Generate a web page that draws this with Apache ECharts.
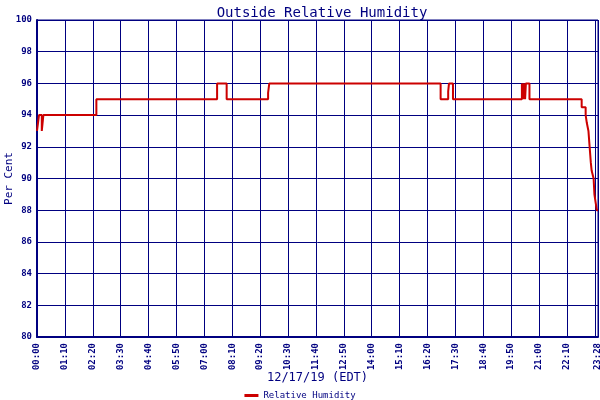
<!DOCTYPE html>
<html>
<head>
<meta charset="utf-8">
<script src="https://cdn.jsdelivr.net/npm/echarts@6/dist/echarts.min.js"></script>
<style>html,body{margin:0;padding:0;background:#fff}#c{width:600px;height:400px}</style>
</head>
<body>
<div id="c"></div>
<script>
// minutes since 00:00 on 12/17/19
const times = [0, 5, 12, 16, 149, 452, 476, 580, 583, 1013, 1032, 1034, 1044,
  1217, 1219, 1220, 1222, 1223, 1225, 1227, 1236,
  1367, 1377, 1380, 1384, 1387, 1390, 1392, 1397, 1399, 1402, 1405, 1408];
const humidity = [93, 94, 93, 94, 95, 96, 95, 95.4, 96, 95, 95.5, 96, 95,
  96, 95, 96, 95, 96, 95, 96, 95,
  94.5, 94, 93.5, 93, 92, 91, 90.5, 90, 89, 88.5, 88, 88];
const yTicks = {min: 80, max: 100, step: 2};
const xTickStep = 70;
const xMax = 1408;
const seriesName = 'Relative Humidity';

const navy = '#000080';
const mono = 'DejaVu Sans Mono';
const fmt = m => { const h = Math.floor(m / 60), mm = Math.round(m % 60); return String(h).padStart(2,'0') + ':' + String(mm).padStart(2,'0'); };

const chart = echarts.init(document.getElementById('c'));
chart.setOption({
  animation: false,
  backgroundColor: '#fff',
  title: {
    text: 'Outside Relative Humidity', left: 317, top: 1, textAlign: 'center',
    textStyle: {color: navy, fontFamily: mono, fontSize: 14, fontWeight: 'normal'}
  },
  legend: {
    bottom: 0, left: 'center', padding: 0, icon: 'rect', itemWidth: 14, itemHeight: 3, itemGap: 4,
    textStyle: {color: navy, fontFamily: mono, fontSize: 9},
    data: [seriesName]
  },
  grid: {left: 37, right: 2, top: 20, bottom: 63, show: true, borderColor: navy, borderWidth: 1,
    containLabel: false, outerBoundsMode: 'none'},
  xAxis: {
    type: 'value', min: 0, max: xMax, interval: xTickStep,
    name: '12/17/19 (EDT)', nameLocation: 'middle', nameGap: 35, nameMoveOverlap: false,
    nameTextStyle: {color: navy, fontFamily: mono, fontSize: 12},
    axisLine: {lineStyle: {color: navy, width: 2}},
    axisTick: {show: false},
    splitLine: {show: true, lineStyle: {color: navy, width: 1}},
    axisLabel: {rotate: 90, color: navy, fontFamily: mono, fontSize: 9, fontWeight: 'bold', margin: 6,
      showMaxLabel: true, showMinLabel: true, hideOverlap: false, formatter: v => fmt(v)}
  },
  yAxis: {
    type: 'value', min: yTicks.min, max: yTicks.max, interval: yTicks.step,
    name: 'Per Cent', nameLocation: 'middle', nameGap: 22, nameRotate: 90, nameMoveOverlap: false,
    nameTextStyle: {color: navy, fontFamily: mono, fontSize: 11},
    axisLine: {show: true, lineStyle: {color: navy, width: 2}},
    axisTick: {show: false},
    splitLine: {show: true, lineStyle: {color: navy, width: 1}},
    axisLabel: {color: navy, fontFamily: mono, fontSize: 9, fontWeight: 'bold', margin: 5}
  },
  series: [{
    name: seriesName, type: 'line', step: 'end', showSymbol: false,
    color: '#cc0000',
    lineStyle: {color: '#cc0000', width: 2},
    data: times.map((t, i) => [t, humidity[i]])
  }]
});
</script>
</body>
</html>
